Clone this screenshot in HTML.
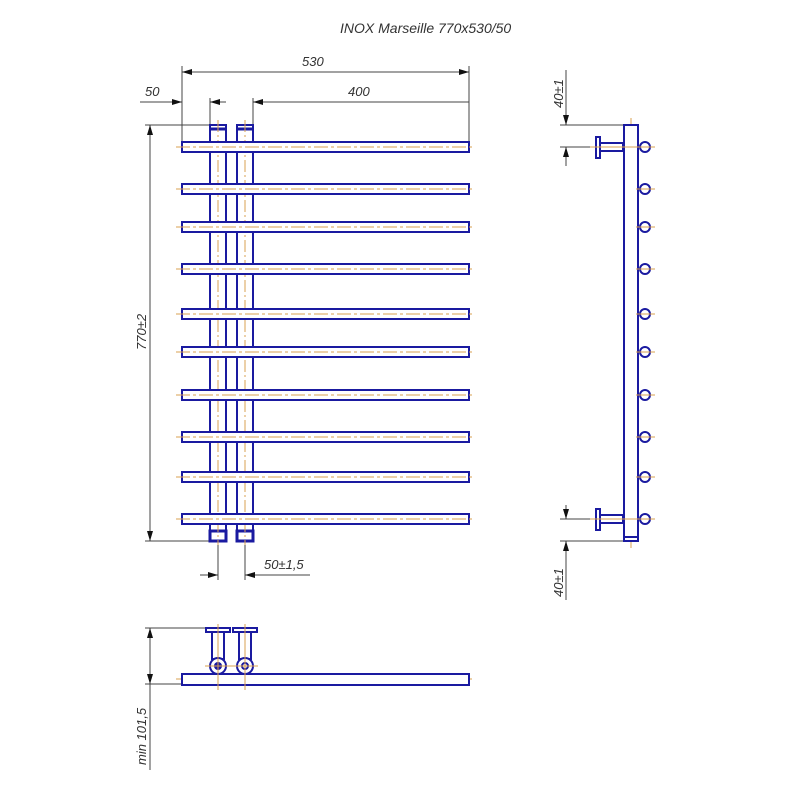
<!DOCTYPE html>
<html><head><meta charset="utf-8"><style>
html,body{margin:0;padding:0;background:#fff;}
svg{display:block;}
text{font-family:"Liberation Sans",sans-serif;font-style:italic;fill:#333;}
</style></head><body>
<svg width="786" height="786" viewBox="0 0 786 786" xmlns="http://www.w3.org/2000/svg">
<defs>
<marker id="a" viewBox="0 0 10 6" refX="10" refY="3" markerWidth="10" markerHeight="6" orient="auto-start-reverse" markerUnits="userSpaceOnUse"><path d="M0,0 L10,3 L0,6 z" fill="#111"/></marker>
</defs>
<text x="340" y="33" font-size="14" fill="#444">INOX Marseille 770x530/50</text>

<!-- dimension lines -->
<g stroke="#444" stroke-width="1" fill="none">
<line x1="182" y1="66" x2="182" y2="143"/>
<line x1="469" y1="66" x2="469" y2="143"/>
<line x1="182" y1="72" x2="469" y2="72" marker-start="url(#a)" marker-end="url(#a)"/>
<line x1="140" y1="102" x2="182" y2="102" marker-end="url(#a)"/>
<line x1="210" y1="102" x2="226" y2="102" marker-start="url(#a)"/>
<line x1="210" y1="98" x2="210" y2="124"/>
<line x1="253" y1="98" x2="253" y2="124"/>
<line x1="253" y1="102" x2="469" y2="102" marker-start="url(#a)"/>
<line x1="145" y1="125" x2="210" y2="125"/>
<line x1="145" y1="541" x2="210" y2="541"/>
<line x1="150" y1="125" x2="150" y2="541" marker-start="url(#a)" marker-end="url(#a)"/>
<line x1="218" y1="541" x2="218" y2="580"/>
<line x1="245" y1="541" x2="245" y2="580"/>
<line x1="200" y1="575" x2="218" y2="575" marker-end="url(#a)"/>
<line x1="245" y1="575" x2="310" y2="575" marker-start="url(#a)"/>
<!-- side -->
<line x1="560" y1="125" x2="624" y2="125"/>
<line x1="560" y1="147" x2="596" y2="147"/>
<line x1="566" y1="70" x2="566" y2="125" marker-end="url(#a)"/>
<line x1="566" y1="147" x2="566" y2="166" marker-start="url(#a)"/>
<line x1="560" y1="519" x2="596" y2="519"/>
<line x1="560" y1="541" x2="624" y2="541"/>
<line x1="566" y1="505" x2="566" y2="519" marker-end="url(#a)"/>
<line x1="566" y1="541" x2="566" y2="600" marker-start="url(#a)"/>
<!-- bottom -->
<line x1="145" y1="628" x2="210" y2="628"/>
<line x1="145" y1="684" x2="182" y2="684"/>
<line x1="150" y1="628" x2="150" y2="684" marker-start="url(#a)" marker-end="url(#a)"/>
<line x1="150" y1="684" x2="150" y2="770"/>
</g>
<g font-size="13">
<text x="302" y="66">530</text>
<text x="145" y="96">50</text>
<text x="348" y="96">400</text>
<text x="264" y="569">50±1,5</text>
<text transform="translate(146,350) rotate(-90)">770±2</text>
<text transform="translate(563,108) rotate(-90)">40±1</text>
<text transform="translate(563,597) rotate(-90)">40±1</text>
<text transform="translate(146,765) rotate(-90)">min 101,5</text>
</g>

<!-- front view posts -->
<g stroke="#1a1aa0" stroke-width="2" fill="#fff">
<rect x="210" y="125" width="16" height="416"/>
<rect x="237" y="125" width="16" height="416"/>
<line x1="210" y1="129" x2="226" y2="129" stroke-width="3"/>
<line x1="237" y1="129" x2="253" y2="129" stroke-width="3"/>
<rect x="210" y="531" width="16" height="10" stroke-width="3"/>
<rect x="237" y="531" width="16" height="10" stroke-width="3"/>
</g>
<g stroke="#d9a050" stroke-width="1" stroke-dasharray="12,3,2,3">
<line x1="218" y1="120" x2="218" y2="545"/>
<line x1="245" y1="120" x2="245" y2="545"/>
<line x1="631" y1="118" x2="631" y2="548"/>
</g>
<g id="bars" stroke="#1a1aa0" stroke-width="2" fill="#fff">
<rect x="182" y="142" width="287" height="10"/>
<rect x="182" y="184" width="287" height="10"/>
<rect x="182" y="222" width="287" height="10"/>
<rect x="182" y="264" width="287" height="10"/>
<rect x="182" y="309" width="287" height="10"/>
<rect x="182" y="347" width="287" height="10"/>
<rect x="182" y="390" width="287" height="10"/>
<rect x="182" y="432" width="287" height="10"/>
<rect x="182" y="472" width="287" height="10"/>
<rect x="182" y="514" width="287" height="10"/>
</g>
<g stroke="#d9a050" stroke-width="1" stroke-dasharray="14,3,3,3">
<line x1="176" y1="147" x2="475" y2="147"/>
<line x1="176" y1="189" x2="475" y2="189"/>
<line x1="176" y1="227" x2="475" y2="227"/>
<line x1="176" y1="269" x2="475" y2="269"/>
<line x1="176" y1="314" x2="475" y2="314"/>
<line x1="176" y1="352" x2="475" y2="352"/>
<line x1="176" y1="395" x2="475" y2="395"/>
<line x1="176" y1="437" x2="475" y2="437"/>
<line x1="176" y1="477" x2="475" y2="477"/>
<line x1="176" y1="519" x2="475" y2="519"/>
<line x1="176" y1="679" x2="475" y2="679"/>
</g>

<!-- side view -->
<g stroke="#1a1aa0" stroke-width="2" fill="#fff">
<rect x="624" y="125" width="14" height="416"/>
<line x1="624" y1="537" x2="638" y2="537"/>
<rect x="596" y="137" width="4" height="21"/>
<rect x="600" y="143" width="23" height="8"/>
<rect x="596" y="509" width="4" height="21"/>
<rect x="600" y="515" width="23" height="8"/>
<circle cx="645" cy="147" r="5"/><circle cx="645" cy="189" r="5"/>
<circle cx="645" cy="227" r="5"/><circle cx="645" cy="269" r="5"/>
<circle cx="645" cy="314" r="5"/><circle cx="645" cy="352" r="5"/>
<circle cx="645" cy="395" r="5"/><circle cx="645" cy="437" r="5"/>
<circle cx="645" cy="477" r="5"/><circle cx="645" cy="519" r="5"/>
</g>
<g stroke="#d9a050" stroke-width="1">
<line x1="590" y1="147" x2="655" y2="147"/><line x1="590" y1="519" x2="655" y2="519"/>
<line x1="636" y1="189" x2="655" y2="189"/><line x1="636" y1="227" x2="655" y2="227"/>
<line x1="636" y1="269" x2="655" y2="269"/><line x1="636" y1="314" x2="655" y2="314"/>
<line x1="636" y1="352" x2="655" y2="352"/><line x1="636" y1="395" x2="655" y2="395"/>
<line x1="636" y1="437" x2="655" y2="437"/><line x1="636" y1="477" x2="655" y2="477"/>
</g>

<!-- bottom view -->
<g stroke="#1a1aa0" stroke-width="2" fill="#fff">
<rect x="182" y="674" width="287" height="11"/>
<rect x="212" y="632" width="12" height="27"/>
<rect x="239" y="632" width="12" height="27"/>
<rect x="206" y="628" width="24" height="4"/>
<rect x="233" y="628" width="24" height="4"/>
<circle cx="218" cy="666" r="8"/>
<circle cx="245" cy="666" r="8"/>
<circle cx="245" cy="666" r="3"/>
</g>
<circle cx="218" cy="666" r="4" fill="#1a1aa0"/>
<g stroke="#d9a050" stroke-width="1">
<line x1="218" y1="624" x2="218" y2="690"/><line x1="245" y1="624" x2="245" y2="690"/>
<line x1="205" y1="666" x2="258" y2="666"/>
</g>
</svg>
</body></html>
